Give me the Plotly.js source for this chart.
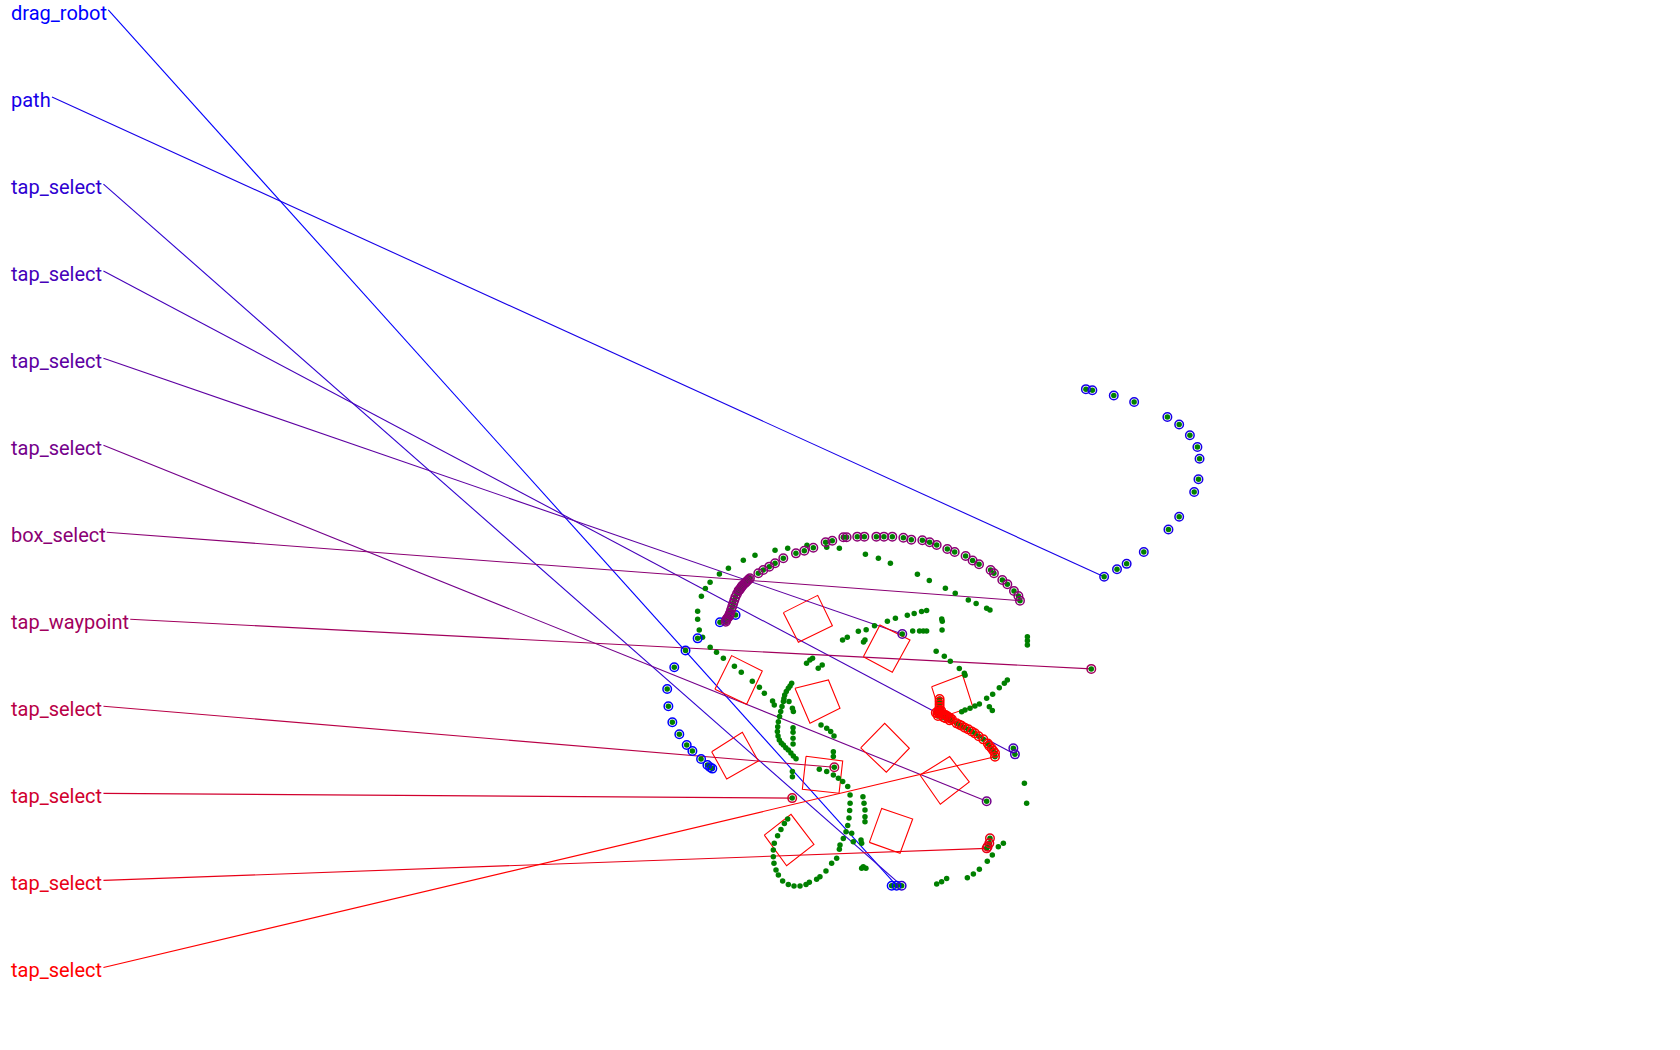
<!DOCTYPE html>
<html>
<head>
<meta charset="utf-8">
<script src="https://cdn.plot.ly/plotly-3.0.1.min.js"></script>
<style>
  html, body { margin: 0; padding: 0; background: #fff; overflow: hidden; }
  #plot { width: 1680px; height: 1050px; }
</style>
</head>
<body>
<div id="plot"></div>
<script>
// interaction labels, top to bottom
const labels = ['drag_robot', 'path', 'tap_select', 'tap_select', 'tap_select', 'tap_select',
  'box_select', 'tap_waypoint', 'tap_select', 'tap_select', 'tap_select', 'tap_select'];
const labelY = [9.3, 90.5, 171.7, 252.9, 334.1, 415.3, 496.5, 577.7, 658.9, 740.1, 821.3, 902.5];
const labelEndX = [101, 48.5, 96.5, 96.5, 96.5, 96.5, 99.5, 121.5, 96.5, 96.5, 96.5, 96.5];
const colors = ['rgb(0,0,255)', 'rgb(23,0,232)', 'rgb(46,0,209)', 'rgb(70,0,185)',
  'rgb(93,0,162)', 'rgb(116,0,139)', 'rgb(139,0,116)', 'rgb(162,0,93)',
  'rgb(185,0,70)', 'rgb(209,0,46)', 'rgb(232,0,23)', 'rgb(255,0,0)'];

// selected points per interaction (last point = where the label line points)
const selX = [
  [686.2, 671.6, 650.8, 639.5, 629, 622.4, 623.5, 627.2, 633.7, 640.6, 645.9, 654, 659.9, 662.4, 664.5, 831.8, 836.4],
  [1013, 1019, 1039, 1058, 1089, 1100, 1110, 1117, 1119, 1118, 1114, 1100, 1090, 1067, 1051, 1042, 1030],
  [841.1],
  [945.3, 946.8],
  [841.7],
  [920.4],
  [677, 677.5, 678, 679, 680, 680.5, 681, 682, 683, 684, 685, 686, 687.5, 689, 690, 691, 692, 693, 695, 696, 697, 698.5, 699.6,
   707.4, 712, 717.6, 723, 730.7, 742.5, 750.3, 758.7, 770.2, 776.4, 786.7, 789.8, 799.7, 806.3,
   817.5, 824.6, 832.4, 842.7, 850.1, 860.4, 867.2, 873.8, 883.7, 890.6, 900.8, 907.3, 913.3,
   924.1, 927.2, 935, 939.7, 945.9, 950, 951.5],
  [1018],
  [778.3],
  [739],
  [923.5, 922.9, 921.3, 920.4],
  [876.5, 876.5, 876.5, 876.5, 876, 876, 873, 874.5, 876, 877.5, 879, 880.5, 882, 883.5, 885, 886.5, 888, 875, 880, 878, 882, 886,
   892.4, 895, 897.1, 900, 903.3, 906.5, 909.5, 913, 917.3, 921.5, 922.9, 925, 926.6, 928.2, 928.2]
];
const selY = [
  [573.7, 580.5, 595.5, 606.8, 622.4, 642.8, 658.8, 673.8, 685, 694.9, 700.5, 708, 713.6, 715.8, 717, 826.2, 826.2],
  [363, 364, 369, 375, 389, 396, 406, 417, 428, 447, 459, 482, 494, 515, 526, 531, 538],
  [826.2],
  [698.1, 703.7],
  [591.4],
  [747.4],
  [580, 578.5, 577.5, 576, 575, 573.5, 572, 569, 566, 563, 560, 557, 554, 551, 550, 548.5, 547, 546, 544, 543, 542, 540.5, 539.5,
   534.8, 531.7, 528.6, 525.5, 520.8, 516.2, 513.7, 510.9, 505.9, 504.4, 501.2, 501.2, 500.6, 500.6,
   500.6, 500.6, 500.6, 501.6, 503.4, 504, 505.9, 508.4, 512.1, 514.9, 518.7, 522.8, 526.3,
   531.7, 534.8, 541, 545.1, 551.3, 556, 560.3],
  [624],
  [715.8],
  [744.5],
  [782, 786.7, 789.8, 791.4],
  [652, 654.5, 657, 659.5, 662, 664, 665, 665.5, 665, 665.5, 666, 666.5, 667, 668, 669, 670, 671, 668, 669, 663, 670, 672,
   674.8, 676, 677, 678.8, 680.4, 682.3, 684.1, 686.8, 689.7, 693.5, 695.9, 698, 700.3, 702.5, 705.9]
];

// unselected green points
const greenX = [734.8, 723, 704.3, 693.4, 679.5, 671.1, 662.4, 658, 654.3, 650.8, 650.8, 652.3, 655.4, 662.5,
  668.4, 674.8, 685.1, 691.5, 701.8, 708.4, 713, 720.7, 722.3,
  752.8, 771.2, 783, 807.3, 819.4, 830.6, 855.8, 866.9, 881.9, 891.1, 903.3, 910.6, 920.4, 923.5,
  864.4, 859.7, 852.8, 846.4, 835.3, 827.8, 815.8, 808, 800.7, 790.4, 786, 806.9, 805.5,
  851.4, 857.8, 861.3, 864.4, 878.5, 879, 878.8,
  873.3, 880.9, 886.5, 894.9, 899.6, 900.3, 958.4, 958.4, 958.4,
  752.4, 755.5, 758, 763.3, 767,
  939.7, 936.9, 932.2, 926, 920.4, 913.6, 909.5, 904.9, 900.2, 897.1, 922.9, 925.7, 955.6, 957.7,
  738.5, 737, 735.4, 733.5, 732, 731.3, 730.8, 729.5, 728.3, 727.2, 726.1, 725.5, 725.2, 725.8, 727,
  728.8, 730.8, 733, 735.4, 737.8, 740.1, 742.6,
  736, 739.2, 740.1, 739.8, 739.8, 739.8, 739.8, 739.2, 739.2,
  765.9, 771.2, 774.9, 778, 777.4, 777.4,
  764.3, 771.2, 777.4, 782.1, 786.1, 790.8, 793, 793, 792.6, 792, 790.8, 789.2, 786.7, 783.6, 783,
  794.5, 796, 805, 806, 806.9, 806.9, 806.9, 803.2, 803.8, 805.3, 807.8, 803.8,
  734.8, 731.7, 728.5, 725.4, 722.3, 721.4, 721.4, 722, 723.9, 726.1, 730.1, 735.4, 740.7, 746.3,
  751.9, 755, 761.8, 764.9, 770.5, 775.8, 780.5,
  873.8, 878.4, 883.1, 902.4, 908, 913.6, 921, 925.7, 931.3, 936];
const greenY = [511.5, 513.4, 518, 522.7, 530.2, 535.5, 543.2, 549.1, 556.3, 570.2, 577.7, 587.7, 594.5, 603.7,
  608.5, 614.1, 621.5, 627.2, 635.4, 641.2, 646.8, 653.9, 657.6,
  508.7, 510.6, 511.5, 517.1, 520.8, 525.5, 535.8, 541.5, 548.8, 553.5, 559.8, 562.9, 567.5, 569,
  569.5, 570.5, 572.2, 573.9, 576.8, 579.6, 583.7, 587.5, 588.8, 594.5, 597, 597, 599,
  588.7, 588.7, 588.7, 588.7, 577.5, 579.5, 587.7,
  607.5, 612.3, 616.8, 623.5, 628.1, 629.8, 593.9, 597.7, 601.7,
  618.8, 615.7, 614.1, 623.4, 620.3,
  634.3, 637.4, 641.5, 647.7, 651.4, 656.7, 658.6, 660.8, 662.3, 663.9, 659.2, 662.9, 730.7, 749.4,
  637.4, 640, 642.1, 645, 648.3, 651.5, 654.5, 659, 663.8, 668.5, 673.2, 678, 682.5, 686.5, 690.3,
  693, 695, 697.5, 699.6, 702.5, 705.2, 707.7,
  654.5, 660.7, 663.8, 678.8, 683.1, 688.7, 694, 719.8, 724.5,
  676.3, 679.4, 682.5, 686.5, 701.2, 705.8,
  717.6, 719.8, 722.9, 726, 729.1, 733.8, 741.6, 749.3, 756, 763, 770, 776, 782.1, 788.3, 792.3,
  777.4, 785.2, 743.2, 749.4, 755.6, 761.8, 766.5, 783.6, 786.7, 808.5, 810, 810,
  764, 768.1, 773.7, 779.6, 786.7, 792.9, 799.2, 805.4, 811.6, 816.3, 821.9, 825, 826.5, 826.5,
  825, 823.1, 820.3, 817.8, 812.5, 805.4, 800.7,
  824.7, 822.5, 819.4, 818.8, 815.3, 811, 803.5, 797.6, 789.8, 786.7];

// obstacle corners
const obsX = [
  [730.8, 762.8, 776.5, 744.8], [805.4, 820.9, 848.9, 832.4], [869.1, 898, 907.4, 878],
  [666.9, 682.5, 711.1, 696.5], [741.6, 772.8, 783.6, 755.6], [802.9, 825.3, 848.3, 826.8],
  [663.9, 692.5, 707.4, 677.9], [751.9, 786.1, 782.7, 748.5], [858.2, 885.9, 904.2, 877.2],
  [713, 737.9, 759.3, 733.8], [811, 822.5, 851.4, 839.6]
];
const obsY = [
  [571.5, 555.4, 583.7, 599.2], [612.6, 583, 597, 627.2], [640.6, 629.7, 659.2, 669],
  [643, 611.6, 625.9, 657], [642.1, 634.3, 660.7, 674.7], [697.6, 674.7, 698, 720.4],
  [701.2, 683.1, 709.9, 726.6], [705.5, 709.9, 740, 736.3], [723, 705.8, 729.5, 750.2],
  [779, 759.7, 787.7, 807.6], [785.8, 754.1, 764, 796]
];

const traces = [];

// label lines
labels.forEach((lab, i) => {
  const xs = selX[i], ys = selY[i];
  traces.push({
    type: 'scatter', mode: 'lines',
    x: [labelEndX[i], xs[xs.length - 1]],
    y: [labelY[i], ys[ys.length - 1]],
    line: { color: colors[i], width: 1.1 },
    hoverinfo: 'skip'
  });
});

// obstacles
const ox = [], oy = [];
obsX.forEach((c, k) => {
  ox.push(...c, c[0], null);
  oy.push(...obsY[k], obsY[k][0], null);
});
traces.push({
  type: 'scatter', mode: 'lines', x: ox, y: oy,
  line: { color: 'rgb(255,0,0)', width: 1.1 }, hoverinfo: 'skip'
});

// all points
traces.push({
  type: 'scatter', mode: 'markers',
  x: greenX.concat(...selX), y: greenY.concat(...selY),
  marker: { color: 'rgb(0,128,0)', size: 5.5 },
  hoverinfo: 'skip'
});

// selections
labels.forEach((lab, i) => {
  traces.push({
    type: 'scatter', mode: 'markers',
    x: selX[i], y: selY[i],
    marker: { symbol: 'circle-open', color: colors[i], size: 8.5, line: { width: 1.5 } },
    hoverinfo: 'skip'
  });
});

const annotations = labels.map((lab, i) => ({
  x: 8.3, y: labelY[i], xref: 'x', yref: 'y',
  xanchor: 'left', yanchor: 'middle', yshift: -3,
  text: lab, showarrow: false,
  font: { family: 'Roboto', size: 20, color: colors[i] }
}));

const layout = {
  width: 1680, height: 1050,
  margin: { l: 0, r: 0, t: 0, b: 0 },
  paper_bgcolor: '#fff', plot_bgcolor: '#fff',
  showlegend: false,
  xaxis: { visible: false, range: [0, 1567.2], fixedrange: true },
  yaxis: { visible: false, range: [979.5, 0], fixedrange: true },
  annotations: annotations
};

Plotly.newPlot('plot', traces, layout, { staticPlot: true, displayModeBar: false });
</script>
</body>
</html>
